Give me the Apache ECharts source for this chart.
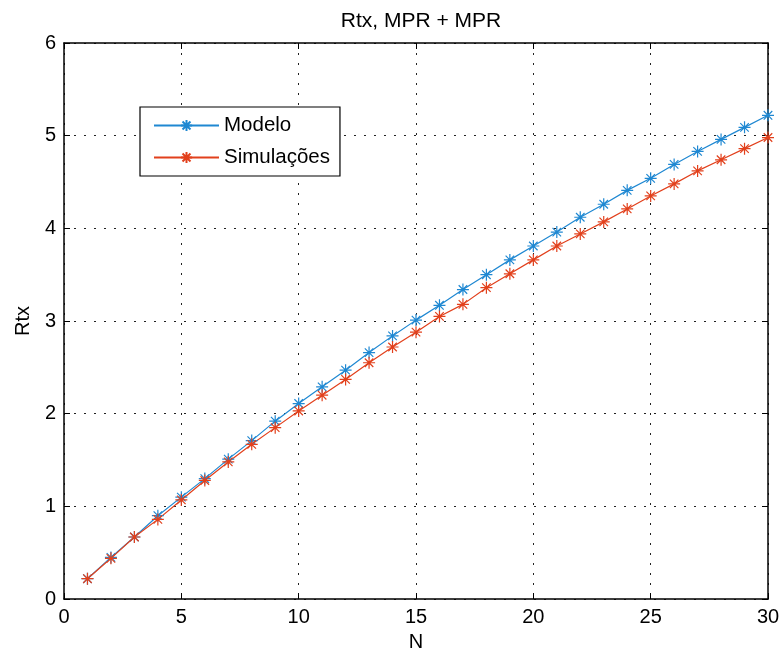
<!DOCTYPE html>
<html>
<head>
<meta charset="utf-8">
<script src="https://cdn.jsdelivr.net/npm/echarts@6/dist/echarts.min.js"></script>
<style>
html, body { margin: 0; padding: 0; background: #fff; }
#chart { width: 784px; height: 657px; }
</style>
</head>
<body>
<div id="chart"></div>
<script>
// dados
var nValues = [1,2,3,4,5,6,7,8,9,10,11,12,13,14,15,16,17,18,19,20,21,22,23,24,25,26,27,28,29,30];
var modelo = [0.22,0.45,0.67,0.90,1.10,1.30,1.51,1.71,1.92,2.11,2.29,2.47,2.66,2.84,3.01,3.17,3.34,3.50,3.66,3.81,3.96,4.12,4.26,4.41,4.54,4.69,4.83,4.96,5.09,5.22];
var simulacoes = [0.22,0.44,0.67,0.86,1.07,1.28,1.48,1.67,1.85,2.03,2.20,2.37,2.55,2.72,2.88,3.05,3.18,3.36,3.51,3.66,3.81,3.94,4.07,4.21,4.35,4.48,4.62,4.74,4.86,4.98];

var FONT = 'Liberation Sans, Arial, sans-serif';
var star = 'path://M0,-1L0,1M-1,0L1,0M-0.71,-0.71L0.71,0.71M-0.71,0.71L0.71,-0.71';

function pairs(ys) {
	var out = [];
	for (var i = 0; i < nValues.length; i++) out.push([nValues[i], ys[i]]);
	return out;
}

function mkSeries(name, ys, color) {
	return {
		name: name,
		type: 'line',
		data: pairs(ys),
		symbol: star,
		symbolSize: 12,
		showAllSymbol: true,
		lineStyle: { color: color, width: 1.2 },
		itemStyle: { color: 'none', borderColor: color, borderWidth: 1.2 },
		emphasis: { disabled: true },
		animation: false
	};
}

var chart = echarts.init(document.getElementById('chart'));

var gridLine = { show: true, lineStyle: { color: '#222', type: [2, 8], width: 1 } };
var axisLine = { show: true, onZero: false, lineStyle: { color: '#000', width: 1.5 } };
var tick = { show: true, inside: true, length: 6, lineStyle: { color: '#000' } };

chart.setOption({
	backgroundColor: '#fff',
	title: {
		text: 'Rtx, MPR + MPR',
		left: 416,
		textAlign: 'center',
		top: 6,
		textStyle: { fontFamily: FONT, fontSize: 21, fontWeight: 'normal', color: '#000' }
	},
	grid: { left: 64, right: 16, top: 43, bottom: 57, containLabel: false },
	legend: {
		orient: 'vertical',
		left: 140,
		top: 107,
		padding: [8, 10, 8, 13],
		itemWidth: 65,
		itemHeight: 14,
		itemGap: 11,
		backgroundColor: '#fff',
		borderColor: '#000',
		borderWidth: 1.2,
		textStyle: { fontFamily: FONT, fontSize: 20.5, color: '#000', lineHeight: 20 },
		data: ['Modelo', 'Simulações']
	},
	xAxis: [{
		type: 'value',
		min: 0, max: 30, interval: 5,
		name: 'N',
		nameLocation: 'middle',
		nameGap: 32,
		nameTextStyle: { fontFamily: FONT, fontSize: 20, color: '#000' },
		axisLine: axisLine,
		axisTick: tick,
		axisLabel: { fontFamily: FONT, fontSize: 20, color: '#000', margin: 8 },
		splitLine: gridLine
	}, {
		type: 'value',
		position: 'top',
		min: 0, max: 30, interval: 5,
		axisLine: axisLine,
		axisTick: tick,
		axisLabel: { show: false },
		splitLine: { show: false }
	}],
	yAxis: [{
		type: 'value',
		min: 0, max: 6, interval: 1,
		name: 'Rtx',
		nameLocation: 'middle',
		nameGap: 30,
		nameTextStyle: { fontFamily: FONT, fontSize: 20, color: '#000' },
		axisLine: axisLine,
		axisTick: tick,
		axisLabel: { fontFamily: FONT, fontSize: 20, color: '#000', margin: 8 },
		splitLine: gridLine
	}, {
		type: 'value',
		position: 'right',
		min: 0, max: 6, interval: 1,
		axisLine: axisLine,
		axisTick: tick,
		axisLabel: { show: false },
		splitLine: { show: false }
	}],
	series: [
		mkSeries('Modelo', modelo, '#1f88d2'),
		mkSeries('Simulações', simulacoes, '#e2401c')
	]
});
</script>
</body>
</html>
